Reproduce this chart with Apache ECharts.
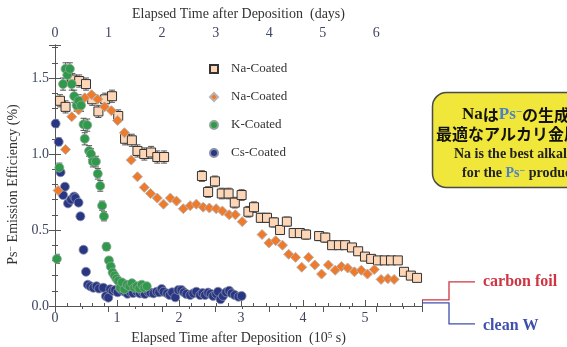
<!DOCTYPE html>
<html>
<head>
<meta charset="utf-8">
<script src="https://cdn.jsdelivr.net/npm/echarts@6/dist/echarts.min.js"></script>
<style>
  html, body { margin: 0; padding: 0; background: #fff; }
  #chart { width: 567px; height: 347px; }
</style>
</head>
<body>
<div id="chart"></div>
<script>
// x in 1e5 s, y in %, third value = error bar half-height
var naSquare = [
  [0.08,1.35,0.04],[0.17,1.31,0.04],[0.28,1.49,0.04],[0.39,1.48,0.04],[0.50,1.46,0.04],
  [0.60,1.36,0.04],[0.70,1.28,0.04],[0.81,1.36,0.04],[0.92,1.38,0.04],[1.02,1.25,0.04],
  [1.13,1.10,0.04],[1.24,1.09,0.04],[1.33,1.02,0.04],[1.44,1.00,0.04],[1.55,1.01,0.04],
  [1.65,0.98,0.04],[1.76,0.98,0.04],
  [2.37,0.855,0.035],[2.47,0.75,0.035],[2.58,0.82,0.035],[2.69,0.74,0.035],[2.80,0.74,0.035],
  [2.90,0.68,0.035],[3.01,0.73,0.035],[3.12,0.62,0.035],[3.21,0.65,0.035],[3.32,0.58,0.03],
  [3.42,0.58,0.03],[3.53,0.55,0.03],[3.63,0.50,0.03],[3.74,0.555,0.03],[3.85,0.48,0.03],
  [3.95,0.48,0.03],[4.05,0.47,0.03],[4.26,0.46,0.03],[4.36,0.45,0.03],[4.47,0.40,0.025],
  [4.58,0.40,0.025],[4.68,0.40,0.025],[4.79,0.385,0.025],[4.89,0.36,0.025],[5.00,0.325,0.02],
  [5.10,0.31,0.02],[5.21,0.30,0.02],[5.32,0.30,0.02],[5.42,0.30,0.02],[5.53,0.30,0.02],
  [5.63,0.225,0.015],[5.74,0.20,0.015],[5.84,0.185,0.015]
];
var naDiamond = [
  [0.05,0.76],[0.17,1.03],[0.27,1.245],[0.38,1.29],[0.48,1.37],[0.59,1.39],[0.69,1.36],
  [0.80,1.31],[0.91,1.285],[1.01,1.22],[1.12,1.14],[1.23,0.96],[1.33,0.85],[1.44,0.78],
  [1.54,0.74],[1.65,0.71],[1.75,0.67],[1.86,0.71],[1.96,0.69],[2.07,0.64],[2.18,0.66],
  [2.28,0.67],[2.39,0.65],[2.49,0.645],[2.60,0.64],[2.70,0.625],[2.81,0.60],[2.91,0.60],
  [3.02,0.555],[3.34,0.47],[3.45,0.415],[3.56,0.43],[3.67,0.40],[3.77,0.34],[3.88,0.32],
  [3.98,0.255],[4.09,0.32],[4.19,0.27],[4.30,0.21],[4.41,0.27],[4.52,0.235],[4.62,0.26],
  [4.72,0.25],[4.83,0.225],[4.94,0.235],[5.04,0.21],[5.15,0.24],[5.26,0.175],[5.37,0.18],
  [5.47,0.175]
];
var kCoated = [
  [0.03,0.31,0.03],[0.07,0.91,0.03],[0.13,1.46,0.04],[0.17,1.56,0.04],[0.20,1.52,0.04],
  [0.24,1.56,0.04],[0.27,1.46,0.04],[0.31,1.38,0.04],[0.35,1.32,0.04],[0.38,1.35,0.04],
  [0.42,1.32,0.04],[0.46,1.195,0.04],[0.48,1.10,0.04],[0.52,1.19,0.04],[0.55,1.02,0.035],
  [0.58,1.00,0.035],[0.61,0.95,0.035],[0.66,0.95,0.035],[0.69,0.87,0.035],[0.73,0.79,0.035],
  [0.76,0.66,0.03],[0.79,0.59,0.03],[0.83,0.39,0.025],[0.87,0.30,0.02],[0.90,0.26,0.02],
  [0.93,0.22,0.02],[0.96,0.20,0.015],[0.99,0.18,0.015],[1.02,0.165,0.015],[1.05,0.12,0.015],
  [1.08,0.155,0.015],[1.12,0.11,0.015],[1.16,0.14,0.015],[1.20,0.13,0.015],[1.24,0.15,0.015],
  [1.28,0.12,0.015],[1.32,0.13,0.015],[1.36,0.115,0.015],[1.40,0.14,0.015],[1.44,0.12,0.015],
  [1.48,0.13,0.015]
];
var csCoated = [
  [0.01,1.20,0.025],[0.06,1.08,0.025],[0.09,0.88,0.02],[0.13,0.73,0.02],[0.16,0.785,0.02],
  [0.21,0.675,0.02],[0.26,0.70,0.02],[0.31,0.72,0.02],[0.33,0.71,0.02],[0.38,0.68,0.02],
  [0.41,0.59,0.02],[0.46,0.37,0.015],[0.50,0.225,0.01],[0.53,0.14,0],[0.57,0.13,0],
  [0.62,0.12,0],[0.67,0.13,0],[0.71,0.115,0],[0.78,0.12,0],[0.82,0.065,0],[0.86,0.055,0],
  [0.89,0.11,0],[0.93,0.10,0],[0.97,0.105,0],[1.01,0.09,0],[1.05,0.115,0],[1.09,0.10,0],
  [1.13,0.094,0],[1.17,0.08,0],[1.21,0.094,0],[1.26,0.085,0],[1.32,0.094,0],[1.37,0.083,0],
  [1.42,0.088,0],[1.45,0.079,0],[1.50,0.094,0],[1.54,0.088,0],[1.59,0.083,0],[1.64,0.094,0],
  [1.68,0.09,0],[1.72,0.112,0],[1.75,0.094,0],[1.81,0.083,0],[1.85,0.072,0],[1.89,0.09,0],
  [1.94,0.057,0],[1.99,0.105,0],[2.04,0.105,0],[2.08,0.09,0],[2.12,0.079,0],[2.18,0.072,0],
  [2.23,0.083,0],[2.28,0.094,0],[2.34,0.072,0],[2.38,0.085,0],[2.42,0.072,0],[2.47,0.088,0],
  [2.51,0.08,0],[2.55,0.066,0],[2.60,0.079,0],[2.63,0.094,0],[2.67,0.044,0],[2.71,0.066,0],
  [2.76,0.09,0],[2.81,0.10,0],[2.85,0.083,0],[2.90,0.072,0],[2.96,0.061,0],[3.01,0.066,0]
];
var legendNames = ['Na-Coated', 'Na-Coated ', 'K-Coated', 'Cs-Coated'];
var xMax = 5.92;           // 1e5 s
var dayInSec = 0.864;      // 1 day in 1e5 s
var yMax = 1.717;
var carbonLevel = 0.04, cleanWLevel = 0.02;

var serif = '"Liberation Serif", "DejaVu Serif", serif';
var cjk = '"Noto Sans CJK JP", sans-serif';
var labelColor = '#3e4660';
var axisColor = '#555';

function errBars(params, api) {
  var e = api.value(2);
  if (!e) return null;
  var x = api.value(0), y = api.value(1);
  var lo = api.coord([x, y - e]);
  var hi = api.coord([x, y + e]);
  var w = 3;
  var st = { stroke: '#555', lineWidth: 1 };
  return {
    type: 'group',
    children: [
      { type: 'line', shape: { x1: lo[0], y1: lo[1], x2: hi[0], y2: hi[1] }, style: st },
      { type: 'line', shape: { x1: lo[0] - w, y1: lo[1], x2: lo[0] + w, y2: lo[1] }, style: st },
      { type: 'line', shape: { x1: hi[0] - w, y1: hi[1], x2: hi[0] + w, y2: hi[1] }, style: st }
    ]
  };
}

function errSeries(data) {
  return {
    type: 'custom', renderItem: errBars, data: data, clip: true,
    encode: { x: 0, y: 1 }, silent: true, z: 1
  };
}

var chart = echarts.init(document.getElementById('chart'));
var option = {
  animation: false,
  textStyle: { fontFamily: serif },
  grid: { left: 55, right: 145, top: 45, bottom: 41, outerBoundsMode: 'none' },
  legend: {
    data: legendNames.map(function (n, i) {
      return { name: n, icon: ['rect', 'diamond', 'circle', 'circle'][i] };
    }),
    orient: 'vertical', left: 204, top: 57,
    itemWidth: 8, itemHeight: 8, itemGap: 14,
    textStyle: { fontFamily: serif, fontSize: 13, color: '#333', lineHeight: 14, padding: [0, 0, 0, 8] }
  },
  xAxis: [{
    type: 'value', min: 0, max: xMax, interval: 1, position: 'bottom',
    name: 'Elapsed Time after Deposition  (10{sup|5} s)',
    nameLocation: 'middle', nameGap: 25,
    nameTextStyle: { fontFamily: serif, fontSize: 14, color: '#333',
      rich: { sup: { fontFamily: serif, fontSize: 9, verticalAlign: 'top', color: '#333' } } },
    axisLine: { lineStyle: { color: axisColor } },
    axisTick: { inside: true, length: 6, lineStyle: { color: axisColor } },
    minorTick: { show: true, splitNumber: 5, length: 3, lineStyle: { color: axisColor } },
    axisLabel: { fontFamily: serif, fontSize: 14, color: labelColor, margin: 5, showMaxLabel: false },
    splitLine: { show: false }
  }, {
    type: 'value', min: 0, max: xMax / dayInSec, interval: 1, position: 'top',
    name: 'Elapsed Time after Deposition  (days)',
    nameLocation: 'middle', nameGap: 24,
    nameTextStyle: { fontFamily: serif, fontSize: 14, color: '#333' },
    axisLine: { lineStyle: { color: axisColor } },
    axisTick: { inside: true, length: 6, lineStyle: { color: axisColor } },
    minorTick: { show: true, splitNumber: 2, length: 3, lineStyle: { color: axisColor } },
    axisLabel: { fontFamily: serif, fontSize: 14, color: labelColor, margin: 5, showMaxLabel: false },
    splitLine: { show: false }
  }],
  yAxis: [{
    type: 'value', min: 0, max: yMax, interval: 0.5, position: 'left',
    name: 'Ps{sup|\u2212} Emission Efficiency (%)',
    nameLocation: 'middle', nameGap: 30, nameRotate: 90,
    nameTextStyle: { fontFamily: serif, fontSize: 14, color: '#333', padding: [0, 18, 0, 0],
      rich: { sup: { fontFamily: serif, fontSize: 10, verticalAlign: 'top', color: '#333' } } },
    axisLine: { show: true, lineStyle: { color: axisColor } },
    axisTick: { show: true, inside: true, length: 6, lineStyle: { color: axisColor } },
    minorTick: { show: true, splitNumber: 5, length: 3, lineStyle: { color: axisColor } },
    axisLabel: { fontFamily: serif, fontSize: 14, color: labelColor, margin: 6, showMaxLabel: false,
      formatter: function (v) { return v.toFixed(1); } },
    splitLine: { show: false }
  }, {
    type: 'value', min: 0, max: yMax, interval: 0.5, position: 'right',
    axisLine: { show: true, lineStyle: { color: axisColor } },
    axisTick: { show: true, inside: true, length: 6, lineStyle: { color: axisColor } },
    minorTick: { show: true, splitNumber: 5, length: 3, lineStyle: { color: axisColor } },
    axisLabel: { show: false },
    splitLine: { show: false }
  }],
  series: [
    errSeries(csCoated),
    errSeries(naSquare),
    errSeries(kCoated),
    {
      name: 'Cs-Coated', type: 'scatter', data: csCoated, symbol: 'circle', symbolSize: 9, z: 2,
      itemStyle: { color: '#283684', borderColor: '#8a8fa8', borderWidth: 0.8, opacity: 1 }
    },
    {
      name: 'Na-Coated', type: 'scatter', data: naSquare, symbol: 'rect', symbolSize: 9, z: 3,
      itemStyle: { color: '#fcd6b6', borderColor: '#333', borderWidth: 1, opacity: 1 }
    },
    {
      name: 'Na-Coated ', type: 'scatter', data: naDiamond, symbol: 'diamond', symbolSize: 10, z: 4,
      itemStyle: { color: '#ef7a2c', borderColor: '#b9b1aa', borderWidth: 1, opacity: 1 }
    },
    {
      name: 'K-Coated', type: 'scatter', data: kCoated, symbol: 'circle', symbolSize: 9, z: 5,
      itemStyle: { color: '#2f9a4c', borderColor: '#8fa895', borderWidth: 0.8, opacity: 1 }
    }
  ]
};
chart.setOption(option);

// annotation lines leading from the right axis to the substrate labels
var xr = chart.convertToPixel({ xAxisIndex: 0 }, xMax);
var yc = chart.convertToPixel({ yAxisIndex: 0 }, carbonLevel);
var yw = chart.convertToPixel({ yAxisIndex: 0 }, cleanWLevel);
var bend = xr + 27, end = xr + 53;
var blue = '#3f4fae', red = '#cf3442';

chart.setOption({
  graphic: [
    {
      type: 'rect', shape: { x: 432.5, y: 92.5, width: 200, height: 95, r: 14 },
      style: { fill: '#f1e73a', stroke: '#4a4a4a', lineWidth: 1.5 }, z: 10
    },
    {
      type: 'text', x: 462, y: 115, z: 11,
      style: {
        text: '{a|Na}{j|は}{p|Ps}{s|\u2212}{j|の生成に}',
        verticalAlign: 'middle',
        rich: {
          a: { fontFamily: serif, fontWeight: 'bold', fontSize: 17, fill: '#111' },
          j: { fontFamily: cjk, fontWeight: 'bold', fontSize: 16, fill: '#111' },
          p: { fontFamily: serif, fontWeight: 'bold', fontSize: 17, fill: '#4a82c4' },
          s: { fontFamily: serif, fontWeight: 'bold', fontSize: 11, fill: '#4a82c4', verticalAlign: 'top' }
        }
      }
    },
    {
      type: 'text', x: 436, y: 134, z: 11,
      style: { text: '最適なアルカリ金属', verticalAlign: 'middle',
        font: 'bold 16px "Noto Sans CJK JP", sans-serif', fill: '#111' }
    },
    {
      type: 'text', x: 454, y: 154, z: 11,
      style: { text: 'Na is the best alkali metal', verticalAlign: 'middle',
        font: 'bold 14px "Liberation Serif", serif', fill: '#222' }
    },
    {
      type: 'text', x: 462, y: 173, z: 11,
      style: {
        text: '{t|for the }{p|Ps}{s|\u2212}{t| production}',
        verticalAlign: 'middle',
        rich: {
          t: { fontFamily: serif, fontWeight: 'bold', fontSize: 14, fill: '#222' },
          p: { fontFamily: serif, fontWeight: 'bold', fontSize: 14, fill: '#4a82c4' },
          s: { fontFamily: serif, fontWeight: 'bold', fontSize: 10, fill: '#4a82c4', verticalAlign: 'top' }
        }
      }
    },
    {
      type: 'polyline', z: 9,
      shape: { points: [[xr, yc], [bend, yc], [bend, yc - 18], [end, yc - 18]] },
      style: { stroke: red, lineWidth: 1.3, fill: null }
    },
    {
      type: 'polyline', z: 9,
      shape: { points: [[xr, yw], [bend, yw], [bend, yw + 21], [end, yw + 21]] },
      style: { stroke: blue, lineWidth: 1.3, fill: null }
    },
    {
      type: 'text', x: end + 8, y: yc - 18, z: 11,
      style: { text: 'carbon foil', verticalAlign: 'middle',
        font: 'bold 16px "Liberation Serif", serif', fill: red }
    },
    {
      type: 'text', x: end + 8, y: yw + 23, z: 11,
      style: { text: 'clean W', verticalAlign: 'middle',
        font: 'bold 16px "Liberation Serif", serif', fill: blue }
    }
  ]
});
</script>
</body>
</html>
